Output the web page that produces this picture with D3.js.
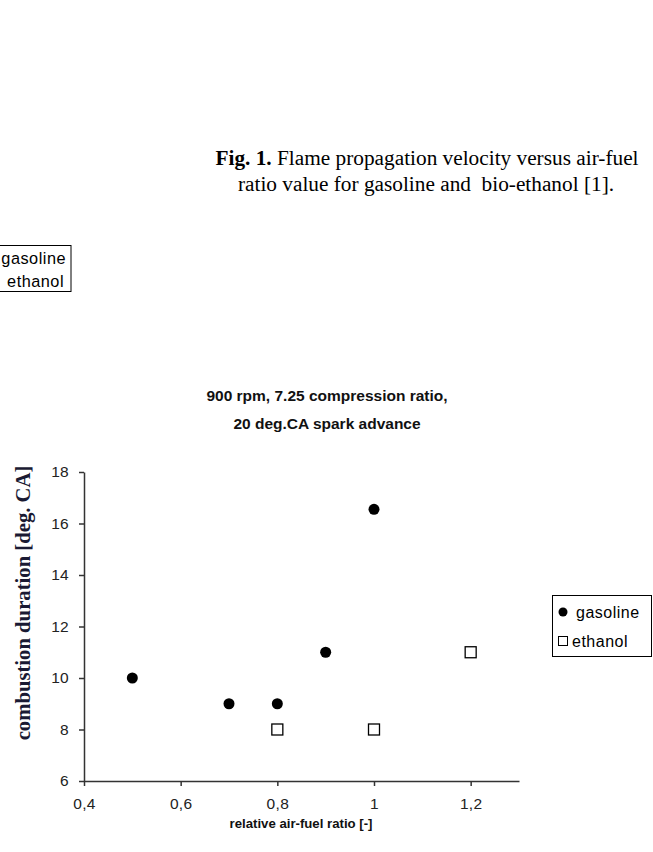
<!DOCTYPE html>
<html><head><meta charset="utf-8">
<script src="https://cdn.jsdelivr.net/npm/d3@7"></script>
<style>body{margin:0;background:#fff;} svg{display:block;} text{white-space:pre;}</style>
</head><body>
<script>
const gasolineX = [0.5, 0.7, 0.8, 0.9, 1.0];
const gasolineY = [10, 9, 9, 11, 16.55];
const ethanolX = [0.8, 1.0, 1.2];
const ethanolY = [8, 8, 11];
const xTicks = [0.4, 0.6, 0.8, 1.0, 1.2];
const yTicks = [6, 8, 10, 12, 14, 16, 18];
const seriesNames = ["gasoline", "ethanol"];
const captionLines = ["Flame propagation velocity versus air-fuel", "ratio value for gasoline and  bio-ethanol [1]."];
const titleLines = ["900 rpm, 7.25 compression ratio,", "20 deg.CA spark advance"];

const W = 653, H = 852;
const svg = d3.select("body").append("svg").attr("width", W).attr("height", H);
const sans = "'Liberation Sans', Arial, sans-serif";
const serif = "'Liberation Serif', 'Times New Roman', serif";

// caption
const cap = svg.append("g").attr("font-family", serif).attr("font-size", 21.3).attr("fill", "#000").attr("text-anchor", "middle");
const c1 = cap.append("text").attr("x", 427).attr("y", 165);
c1.append("tspan").attr("font-weight", "bold").text("Fig. 1.");
c1.append("tspan").text(" " + captionLines[0]);
cap.append("text").attr("x", 426).attr("y", 191).text(captionLines[1]);

// partial legend at left
const lg0 = svg.append("g").attr("font-family", sans).attr("font-size", 16.3).attr("letter-spacing", 0.5).attr("fill", "#000");
lg0.append("rect").attr("x", -40).attr("y", 245.5).attr("width", 111).attr("height", 46).attr("fill", "none").attr("stroke", "#000").attr("stroke-width", 1);
lg0.append("text").attr("x", 66).attr("y", 264).attr("text-anchor", "end").text(seriesNames[0]);
lg0.append("text").attr("x", 64).attr("y", 287).attr("text-anchor", "end").text(seriesNames[1]);

// title
const tt = svg.append("g").attr("font-family", sans).attr("font-size", 15.5).attr("font-weight", "bold").attr("fill", "#111").attr("text-anchor", "middle");
tt.append("text").attr("x", 327).attr("y", 401).text(titleLines[0]);
tt.append("text").attr("x", 327).attr("y", 429).text(titleLines[1]);

const x = d3.scaleLinear().domain([0.4, 1.3]).range([84, 519]);
const y = d3.scaleLinear().domain([6, 18]).range([781, 472]);
const fmt = d => String(+d.toFixed(1)).replace(".", ",");

const xAxis = svg.append("g").attr("transform", "translate(0,781)")
  .call(d3.axisBottom(x).tickValues(xTicks).tickFormat(fmt).tickSize(5).tickSizeOuter(0));
xAxis.selectAll(".tick text").attr("y", 28).attr("dy", 0);
const yAxis = svg.append("g").attr("transform", "translate(84,0)")
  .call(d3.axisLeft(y).tickValues(yTicks).tickFormat(d => d).tickSize(5).tickPadding(10).tickSizeOuter(0));
[xAxis, yAxis].forEach(a => {
  a.select(".domain").attr("stroke", "#333").attr("stroke-width", 1.5);
  a.selectAll(".tick line").attr("stroke", "#333").attr("stroke-width", 1.5);
  a.selectAll(".tick text").attr("font-family", sans).attr("font-size", 15.5).attr("letter-spacing", 0.3).attr("fill", "#222");
});

// axis titles
svg.append("text").attr("x", 301).attr("y", 828).attr("text-anchor", "middle")
  .attr("font-family", sans).attr("font-size", 13.2).attr("font-weight", "bold").attr("fill", "#111")
  .text("relative air-fuel ratio [-]");
svg.append("text").attr("transform", "translate(30,603) rotate(-90)").attr("text-anchor", "middle")
  .attr("font-family", serif).attr("font-size", 20.7).attr("font-weight", "bold").attr("fill", "#1a1a33")
  .text("combustion duration [deg. CA]");

// points
const gas = gasolineX.map((v, i) => ({x: v, y: gasolineY[i]}));
const eth = ethanolX.map((v, i) => ({x: v, y: ethanolY[i]}));
svg.append("g").selectAll("circle").data(gas).join("circle")
  .attr("cx", d => x(d.x)).attr("cy", d => y(d.y)).attr("r", 5.5).attr("fill", "#000");
svg.append("g").selectAll("rect").data(eth).join("rect")
  .attr("x", d => x(d.x) - 5.5).attr("y", d => y(d.y) - 5.5).attr("width", 11).attr("height", 11)
  .attr("fill", "#fff").attr("stroke", "#000").attr("stroke-width", 1.3);

// right legend
const lg = svg.append("g").attr("font-family", sans).attr("font-size", 16).attr("letter-spacing", 0.5).attr("fill", "#000");
lg.append("rect").attr("x", 552.5).attr("y", 595.5).attr("width", 99).attr("height", 61).attr("fill", "#fff").attr("stroke", "#000").attr("stroke-width", 1);
lg.append("circle").attr("cx", 563).attr("cy", 612).attr("r", 4.5).attr("fill", "#000");
lg.append("text").attr("x", 576).attr("y", 618).text(seriesNames[0]);
lg.append("rect").attr("x", 558.5).attr("y", 636.5).attr("width", 9).attr("height", 9).attr("fill", "#fff").attr("stroke", "#000").attr("stroke-width", 1);
lg.append("text").attr("x", 572).attr("y", 647).text(seriesNames[1]);
</script>
</body></html>
